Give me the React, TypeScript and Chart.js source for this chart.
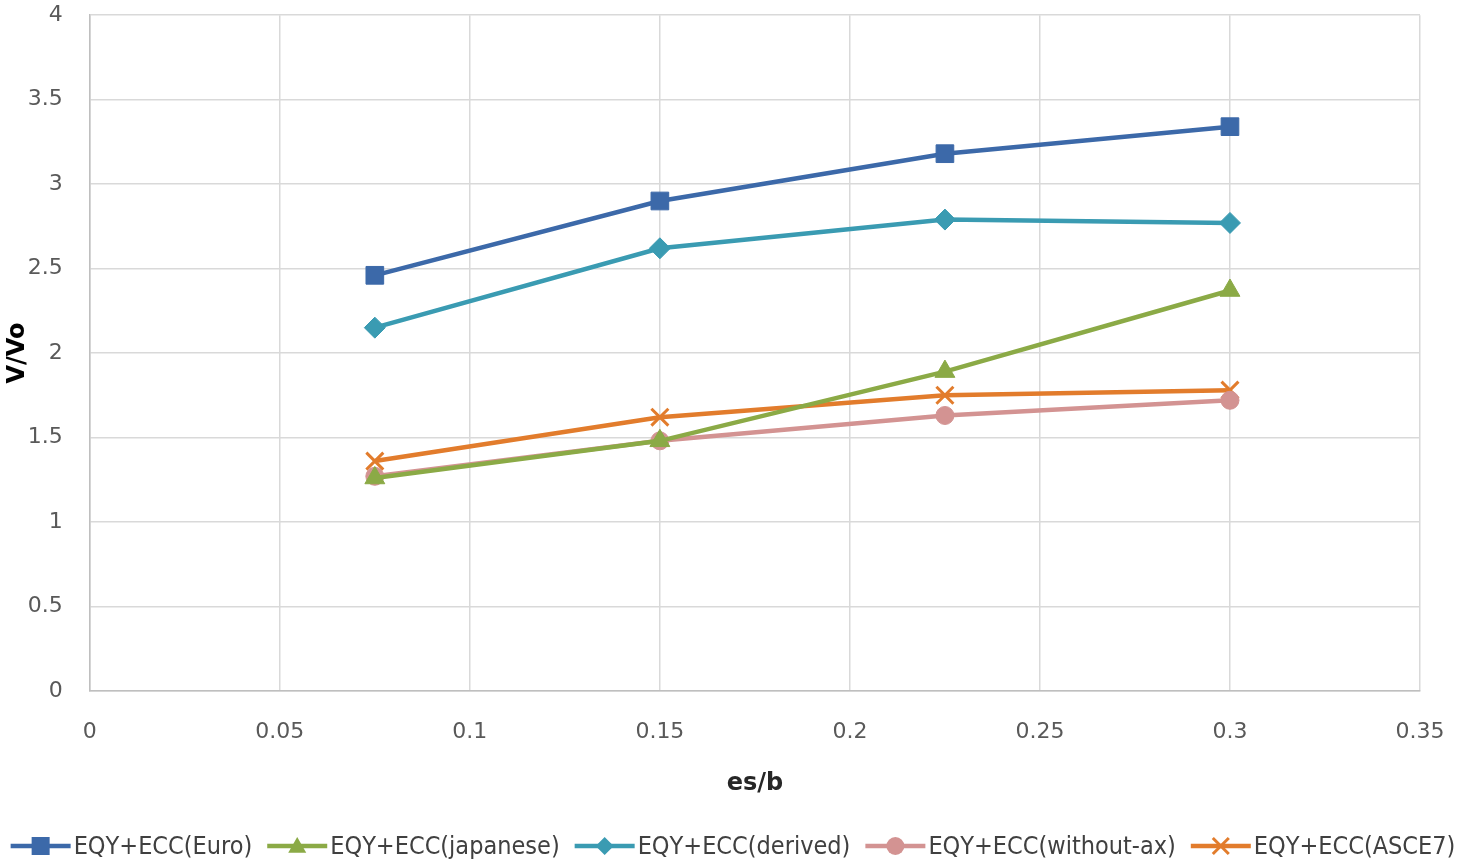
import React, { useEffect, useRef } from "react";
import { Chart, registerables } from "chart.js";

Chart.register(...registerables);

const xValues = [0.075, 0.15, 0.225, 0.3];
const euro = [2.46, 2.9, 3.18, 3.34];
const japanese = [1.26, 1.48, 1.89, 2.37];
const derived = [2.15, 2.62, 2.79, 2.77];
const withoutAx = [1.27, 1.48, 1.63, 1.72];
const asce7 = [1.36, 1.62, 1.75, 1.78];

const seriesNames = [
  "EQY+ECC(Euro)",
  "EQY+ECC(japanese)",
  "EQY+ECC(derived)",
  "EQY+ECC(without-ax)",
  "EQY+ECC(ASCE7)",
];
const seriesData = [euro, japanese, derived, withoutAx, asce7];
const seriesColors = ["#3C69A9", "#8BAA46", "#3A9BB2", "#D39392", "#E27C2C"];
const seriesMarkers = ["rect", "triangle", "rectRot", "circle", "crossRot"];
const markerRadius = [12.5, 11.5, 10.5, 9, 12];

const LEGEND_FONT = "25px 'DejaVu Sans Condensed', 'DejaVu Sans', sans-serif";

function drawMarker(ctx: CanvasRenderingContext2D, marker: string, cx: number, cy: number, color: string) {
  const r = 9;
  ctx.save();
  ctx.fillStyle = color;
  ctx.strokeStyle = color;
  ctx.beginPath();
  if (marker === "rect") {
    ctx.rect(cx - r, cy - r, 2 * r, 2 * r);
    ctx.fill();
  } else if (marker === "triangle") {
    ctx.moveTo(cx, cy - r);
    ctx.lineTo(cx + r, cy + r * 0.75);
    ctx.lineTo(cx - r, cy + r * 0.75);
    ctx.closePath();
    ctx.fill();
  } else if (marker === "rectRot") {
    ctx.moveTo(cx, cy - r);
    ctx.lineTo(cx + r, cy);
    ctx.lineTo(cx, cy + r);
    ctx.lineTo(cx - r, cy);
    ctx.closePath();
    ctx.fill();
  } else if (marker === "circle") {
    ctx.arc(cx, cy, r, 0, Math.PI * 2);
    ctx.fill();
  } else {
    ctx.lineWidth = 3;
    ctx.moveTo(cx - 8, cy - 8);
    ctx.lineTo(cx + 8, cy + 8);
    ctx.moveTo(cx + 8, cy - 8);
    ctx.lineTo(cx - 8, cy + 8);
    ctx.stroke();
  }
  ctx.restore();
}

const excelLegend = {
  id: "excelLegend",
  afterDraw(chart: any) {
    const ctx: CanvasRenderingContext2D = chart.ctx;
    ctx.save();
    ctx.font = LEGEND_FONT;
    const iconW = 60;
    const gapText = 3;
    const gapItem = 15;
    const widths = seriesNames.map((n) => ctx.measureText(n).width);
    const total = widths.reduce((a, w) => a + iconW + gapText + w, 0) + gapItem * (seriesNames.length - 1);
    let x = 733 - total / 2;
    const y = 846;
    seriesNames.forEach((name, i) => {
      const color = seriesColors[i];
      ctx.strokeStyle = color;
      ctx.lineWidth = 4.5;
      ctx.beginPath();
      ctx.moveTo(x, y);
      ctx.lineTo(x + iconW, y);
      ctx.stroke();
      drawMarker(ctx, seriesMarkers[i], x + iconW / 2, y, color);
      ctx.fillStyle = "#404040";
      ctx.textBaseline = "middle";
      ctx.textAlign = "left";
      ctx.fillText(name, x + iconW + gapText, y + 1);
      x += iconW + gapText + widths[i] + gapItem;
    });
    ctx.restore();
  },
};

export default function App() {
  const ref = useRef<HTMLCanvasElement | null>(null);

  useEffect(() => {
    document.body.style.margin = "0";
    const canvas = ref.current!;
    const chart = new Chart(canvas, {
      type: "line",
      data: {
        datasets: seriesNames.map((name, i) => ({
          label: name,
          data: seriesData[i].map((y, j) => ({ x: xValues[j], y })),
          borderColor: seriesColors[i],
          backgroundColor: seriesColors[i],
          borderWidth: 4.5,
          pointStyle: seriesMarkers[i] as any,
          pointRadius: markerRadius[i],
          pointBorderWidth: seriesMarkers[i] === "crossRot" ? 3 : 1,
          pointBorderColor: seriesColors[i],
          pointBackgroundColor: seriesColors[i],
          tension: 0,
        })),
      },
      options: {
        animation: false,
        responsive: false,
        maintainAspectRatio: false,
        layout: { padding: { left: 0, right: 39, top: 0, bottom: 66 } },
        plugins: {
          tooltip: { enabled: false },
          legend: { display: false },
        },
        scales: {
          x: {
            type: "linear",
            min: 0,
            max: 0.35,
            ticks: {
              stepSize: 0.05,
              color: "#595959",
              padding: 2,
              font: { family: "'DejaVu Sans', sans-serif", size: 22 },
              callback: (v: any) => String(Math.round(Number(v) * 100) / 100),
            },
            grid: { color: "#D9D9D9", lineWidth: 1.5, drawTicks: true, tickLength: 26, tickColor: "rgba(0,0,0,0)" },
            border: { color: "#BFBFBF", width: 1.5 },
            title: {
              display: true,
              text: "es/b",
              color: "#262626",
              font: { family: "'DejaVu Sans', sans-serif", size: 24, weight: "bold" },
              padding: { top: 22, bottom: 0 },
            },
          },
          y: {
            type: "linear",
            min: 0,
            max: 4,
            ticks: {
              stepSize: 0.5,
              color: "#595959",
              padding: 2,
              font: { family: "'DejaVu Sans', sans-serif", size: 22 },
              callback: (v: any) => String(Math.round(Number(v) * 10) / 10),
            },
            grid: { color: "#D9D9D9", lineWidth: 1.5, drawTicks: true, tickLength: 25, tickColor: "rgba(0,0,0,0)" },
            border: { color: "#BFBFBF", width: 1.5 },
            title: {
              display: true,
              text: "V/Vo",
              color: "#000000",
              font: { family: "'DejaVu Sans', sans-serif", size: 24, weight: "bold" },
              padding: { top: 3, bottom: -6 },
            },
          },
        },
      },
      plugins: [excelLegend],
    });
    return () => chart.destroy();
  }, []);

  return <canvas ref={ref} width={1459} height={864} style={{ display: "block" }} />;
}
